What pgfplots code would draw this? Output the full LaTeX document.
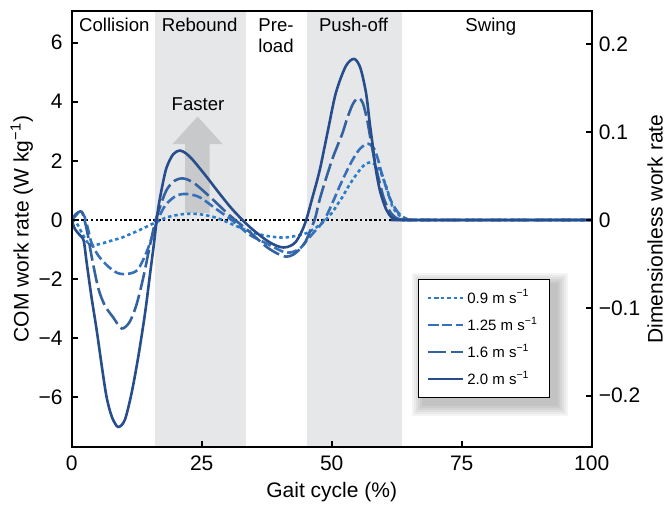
\documentclass[border=0pt]{standalone}
\usepackage{fontspec}
\setmainfont{Liberation Sans}
\usepackage{pgfplots}
\pgfplotsset{compat=1.18}
\definecolor{cA}{RGB}{44,125,200}
\definecolor{cB}{RGB}{55,112,186}
\definecolor{cC}{RGB}{52,98,160}
\definecolor{cD}{RGB}{40,77,140}
\definecolor{shadeC}{RGB}{230,231,233}
\definecolor{arrowC}{RGB}{200,201,203}
\pgfdeclarelayer{background}
\pgfsetlayers{background,main}
\begin{document}
\begin{tikzpicture}
\useasboundingbox (-35.85pt,-29pt) rectangle (297.65pt,223.5pt);
\begin{axis}[
  at={(0,0)}, anchor=south west,
  width=260pt, height=218pt, scale only axis,
  xmin=0, xmax=100, ymin=-7.68, ymax=7.07,
  xtick={0,25,50,75,100}, xticklabels={0,25,50,75,100},
  ytick={-6,-4,-2,0,2,4,6}, yticklabels={−6,−4,−2,0,2,4,6},
  xtick pos=bottom, ytick pos=left,
  tick align=inside, major tick length=3pt,
  axis line style={line width=1pt},
  every tick/.style={line width=1pt, black},
  ticklabel style={font=\fontsize{10.5}{12}\selectfont},
  yticklabel style={xshift=-1pt},
  xticklabel style={yshift=-1pt},
  label style={font=\fontsize{10.5}{12}\selectfont},
  xlabel={Gait cycle (\%)},
  ylabel={COM work rate (W kg\textsuperscript{−1})},
  xlabel style={at={(axis description cs:0.5,-0.103)}, anchor=center},
  ylabel style={at={(axis description cs:-0.096,0.5)}, anchor=center},
  axis on top,
  legend style={at={(0.666,0.385)}, anchor=north west, draw=black, line width=0.6pt,
    fill=white, font=\fontsize{7.5}{9}\selectfont, row sep=1.4pt,
    inner xsep=4pt, inner ysep=3pt, name=leg},
  legend cell align=left,
]
\fill[shadeC] (axis cs:16,-7.68) rectangle (axis cs:33.5,7.07);
\fill[shadeC] (axis cs:45.2,-7.68) rectangle (axis cs:63.5,7.07);
\fill[arrowC] (axis cs:21.8,0.24) -- (axis cs:21.8,2.57) -- (axis cs:19.4,2.57) -- (axis cs:24.2,3.5) -- (axis cs:29.0,2.57) -- (axis cs:26.5,2.57) -- (axis cs:26.5,0.24) -- cycle;
\addplot[black, line width=0.6pt, dash pattern=on 1.2pt off 1.2pt, forget plot] coordinates {(0,0) (100,0)};
\node[anchor=base, font=\fontsize{9.3}{11}\selectfont] at (axis cs:8.2,6.36) {Collision};
\node[anchor=base, font=\fontsize{9.3}{11}\selectfont] at (axis cs:24.6,6.36) {Rebound};
\node[anchor=base, font=\fontsize{9.3}{11}\selectfont] at (axis cs:39.3,6.36) {Pre-};
\node[anchor=base, font=\fontsize{9.3}{11}\selectfont] at (axis cs:39.3,5.65) {load};
\node[anchor=base, font=\fontsize{9.3}{11}\selectfont] at (axis cs:54.2,6.36) {Push-off};
\node[anchor=base, font=\fontsize{9.3}{11}\selectfont] at (axis cs:80.6,6.36) {Swing};
\node[anchor=base, font=\fontsize{9.3}{11}\selectfont] at (axis cs:24.3,3.72) {Faster};

\addplot[cA, line width=1.3pt, dash pattern=on 1.7pt off 1.5pt, smooth, tension=0.5] coordinates {
(0,0)(1,-0.12)(2,-0.45)(3,-0.75)(4,-0.87)(5,-0.83)(6.3,-0.77)(8,-0.68)(9.6,-0.6)(11.2,-0.48)(12.7,-0.37)(14,-0.26)(15.3,-0.15)(16.9,-0.02)(18,0.07)(19.4,0.14)(21.5,0.2)(23.4,0.21)(25.2,0.18)(27.1,0.11)(28.8,0.01)(30.4,-0.11)(32,-0.23)(33.5,-0.34)(35,-0.43)(36.7,-0.51)(38.3,-0.56)(39.9,-0.59)(41.2,-0.59)(42.4,-0.56)(43.7,-0.52)(45.1,-0.45)(46.4,-0.32)(47.7,-0.17)(49,0.03)(50.2,0.28)(51.2,0.55)(52.1,0.79)(53,1.07)(54,1.35)(55,1.6)(55.9,1.8)(56.7,1.91)(57.5,1.95)(58.3,1.88)(59.2,1.7)(59.9,1.4)(60.5,1.13)(61.1,0.78)(61.7,0.45)(62.6,0.22)(63.6,0.09)(65,0.01)(66,0)(100,0)};
\addlegendentry{0.9 m s\textsuperscript{−1}}

\addplot[cB, line width=1.3pt, dash pattern=on 5pt off 2pt, smooth, tension=0.5] coordinates {
(0,0)(0.8,0.15)(1.7,0.3)(2.5,0.1)(3.2,-0.35)(3.8,-0.77)(5.1,-1.2)(7,-1.57)(8.9,-1.8)(10.9,-1.82)(12.7,-1.68)(14.3,-1.13)(15.6,-0.5)(16.3,-0.1)(17.2,0.25)(18.2,0.54)(20.1,0.82)(22.1,0.88)(24.6,0.77)(27.8,0.37)(30.9,-0.02)(34.2,-0.5)(37.4,-0.79)(40.6,-1.07)(42,-1.1)(43.1,-1.04)(44,-0.95)(45.2,-0.7)(46.4,-0.45)(47.7,-0.2)(48.9,0.11)(50.2,0.6)(51.5,1.13)(52.8,1.62)(54,2.03)(55.3,2.38)(56.6,2.57)(57.4,2.55)(58.2,2.4)(58.9,2.05)(59.5,1.65)(60.2,1.25)(60.8,0.9)(61.6,0.58)(62.4,0.34)(63.3,0.15)(64.3,0.05)(66,0)(100,0)};
\addlegendentry{1.25 m s\textsuperscript{−1}}

\addplot[cC, line width=1.3pt, dash pattern=on 9pt off 2.5pt, smooth, tension=0.5] coordinates {
(0,0)(0.8,0.2)(1.9,0.28)(2.6,-0.1)(3.2,-0.6)(3.8,-1.2)(5.1,-2.3)(6.4,-2.9)(8,-3.3)(9.6,-3.67)(11.1,-3.46)(12.4,-2.9)(13.7,-2.0)(15,-0.9)(16,-0.1)(16.8,0.35)(18.2,1.0)(19.7,1.32)(21.2,1.41)(22.5,1.35)(23.9,1.2)(27.1,0.7)(30.3,0.17)(34.2,-0.4)(37.4,-0.9)(39.5,-1.13)(41.2,-1.24)(42.5,-1.18)(43.8,-1.0)(45,-0.72)(46,-0.3)(46.8,0.05)(47.7,0.7)(48.9,1.4)(50.2,2.1)(51.2,2.55)(52.1,2.95)(53,3.45)(54,3.9)(54.7,4.08)(55.3,4.12)(56,3.95)(56.8,3.4)(57.5,2.71)(58.3,1.95)(59.1,1.35)(60,0.75)(61,0.34)(62,0.12)(63,0.03)(64.5,0)(100,0)};
\addlegendentry{1.6 m s\textsuperscript{−1}}

\addplot[cD, line width=1.3pt, smooth, tension=0.5] coordinates {
(0,0)(0.6,-0.3)(1.5,-0.5)(2.3,-0.7)(2.9,-1.47)(3.8,-2.6)(4.8,-3.72)(5.8,-4.96)(6.7,-5.98)(7.7,-6.65)(8.9,-7.0)(10.2,-6.77)(11.5,-5.87)(12.8,-4.63)(14.1,-3.16)(15,-1.92)(15.9,-0.68)(16.5,0.23)(17.2,0.95)(18.2,1.75)(19.5,2.22)(20.8,2.35)(22,2.25)(23.3,2.03)(25.9,1.47)(28.4,0.9)(31,0.34)(34.2,-0.23)(37.4,-0.68)(39.5,-0.88)(40.8,-0.93)(42,-0.88)(43.1,-0.74)(44.2,-0.4)(45.1,0)(46.2,0.7)(47.7,1.69)(49.3,3.05)(50.8,4.3)(52.7,5.2)(54.3,5.45)(55.5,5.15)(56.6,4.3)(57.3,3.3)(57.9,2.5)(58.5,1.69)(59.2,1.05)(59.8,0.68)(60.5,0.35)(61.4,0.11)(62.5,0.01)(64,0)(100,0)};
\addlegendentry{2.0 m s\textsuperscript{−1}}
\end{axis}
\begin{pgfonlayer}{background}
\foreach \s in {1pt,2pt,3pt,4pt,5pt,6pt}{
  \fill[black, opacity=0.045] ([xshift=3pt-\s, yshift=-3pt-\s]leg.south west) rectangle ([xshift=3pt+\s, yshift=-3pt+\s]leg.north east);
}
\end{pgfonlayer}
\begin{axis}[
  at={(0,0)}, anchor=south west,
  width=260pt, height=218pt, scale only axis,
  xmin=0, xmax=100, ymin=-0.2584, ymax=0.2379,
  axis y line*=right, axis x line=none,
  ytick={-0.2,-0.1,0,0.1,0.2}, yticklabels={−0.2,−0.1,0,0.1,0.2},
  tick align=inside, major tick length=3pt,
  axis line style={line width=1pt},
  every tick/.style={line width=1pt, black},
  ticklabel style={font=\fontsize{10.5}{12}\selectfont},
  label style={font=\fontsize{10.5}{12}\selectfont},
  ylabel={Dimensionless work rate},
  ylabel style={at={(axis description cs:1.122,0.5)}, anchor=center, rotate=0},
]
\end{axis}
\end{tikzpicture}
\end{document}
